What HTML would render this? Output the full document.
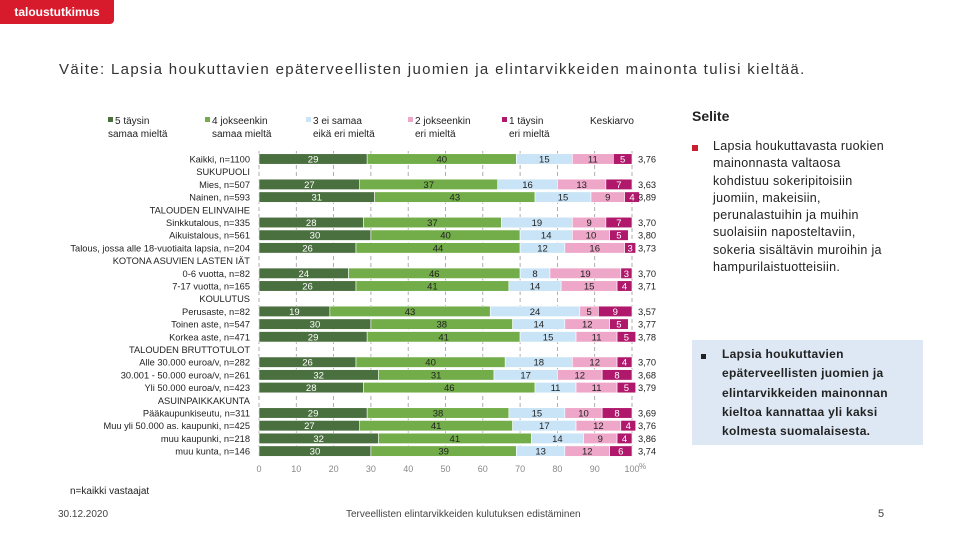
<!DOCTYPE html>
<html><head><meta charset="utf-8"><style>
body{margin:0;background:#fff;font-family:"Liberation Sans",sans-serif;}
#wrap{position:relative;width:960px;height:540px;overflow:hidden;}
.t{position:absolute;white-space:nowrap;}
</style></head><body>
<div id="wrap">
<div class="t" style="left:0;top:0;width:114px;height:24px;background:#d81b2c;border-radius:0 0 4px 0;color:#fff;font-weight:bold;font-size:12px;line-height:24px;text-align:center;">taloustutkimus</div>
<div class="t" style="left:59px;top:61px;font-size:15px;letter-spacing:1.35px;color:#333;">Väite: Lapsia houkuttavien epäterveellisten juomien ja elintarvikkeiden mainonta tulisi kieltää.</div>
<svg id="chart" width="960" height="540" style="position:absolute;left:0;top:0" font-family="Liberation Sans, sans-serif"></svg>
<div class="t" style="left:692px;top:108px;font-size:14px;font-weight:bold;color:#222;">Selite</div>
<div class="t" style="left:692px;top:145px;width:6px;height:6px;background:#c8202f;"></div>
<div class="t" style="left:713px;top:138px;font-size:12.5px;line-height:17.3px;letter-spacing:0.3px;color:#222;">Lapsia houkuttavasta ruokien<br>mainonnasta valtaosa<br>kohdistuu sokeripitoisiin<br>juomiin, makeisiin,<br>perunalastuihin ja muihin<br>suolaisiin naposteltaviin,<br>sokeria sisältävin muroihin ja<br>hampurilaistuotteisiin.</div>
<div class="t" style="left:692px;top:340px;width:231px;height:105px;background:#dde8f4;"></div>
<div class="t" style="left:701px;top:354px;width:5px;height:5px;background:#222;"></div>
<div class="t" style="left:722px;top:345px;font-size:12px;font-weight:bold;line-height:19.3px;letter-spacing:0.3px;color:#222;">Lapsia houkuttavien<br>epäterveellisten juomien ja<br>elintarvikkeiden mainonnan<br>kieltoa kannattaa yli kaksi<br>kolmesta suomalaisesta.</div>
<div class="t" style="left:70px;top:486px;font-size:10px;color:#222;">n=kaikki vastaajat</div>
<div class="t" style="left:58px;top:509px;font-size:10px;color:#444;">30.12.2020</div>
<div class="t" style="left:346px;top:509px;font-size:10px;color:#444;">Terveellisten elintarvikkeiden kulutuksen edistäminen</div>
<div class="t" style="left:878px;top:508px;font-size:11px;color:#444;">5</div>
</div>
<script>
const rowLabels=["Kaikki, n=1100","SUKUPUOLI","Mies, n=507","Nainen, n=593","TALOUDEN ELINVAIHE","Sinkkutalous, n=335","Aikuistalous, n=561","Talous, jossa alle 18-vuotiaita lapsia, n=204","KOTONA ASUVIEN LASTEN IÄT","0-6 vuotta, n=82","7-17 vuotta, n=165","KOULUTUS","Perusaste, n=82","Toinen aste, n=547","Korkea aste, n=471","TALOUDEN BRUTTOTULOT","Alle 30.000 euroa/v, n=282","30.001 - 50.000 euroa/v, n=261","Yli 50.000 euroa/v, n=423","ASUINPAIKKAKUNTA","Pääkaupunkiseutu, n=311","Muu yli 50.000 as. kaupunki, n=425","muu kaupunki, n=218","muu kunta, n=146"];
const s5=[29,null,27,31,null,28,30,26,null,24,26,null,19,30,29,null,26,32,28,null,29,27,32,30];
const s4=[40,null,37,43,null,37,40,44,null,46,41,null,43,38,41,null,40,31,46,null,38,41,41,39];
const s3=[15,null,16,15,null,19,14,12,null,8,14,null,24,14,15,null,18,17,11,null,15,17,14,13];
const s2=[11,null,13,9,null,9,10,16,null,19,15,null,5,12,11,null,12,12,11,null,10,12,9,12];
const s1=[5,null,7,4,null,7,5,3,null,3,4,null,9,5,5,null,4,8,5,null,8,4,4,6];
const means=["3,76","","3,63","3,89","","3,70","3,80","3,73","","3,70","3,71","","3,57","3,77","3,78","","3,70","3,68","3,79","","3,69","3,76","3,86","3,74"];
const ticks=[0,10,20,30,40,50,60,70,80,90,100];
const seriesNames=["5 täysin|samaa mieltä","4 jokseenkin|samaa mieltä","3 ei samaa|eikä eri mieltä","2 jokseenkin|eri mieltä","1 täysin|eri mieltä"];
const colors=["#4b7040","#72ad4a","#c9e4f6","#eea7c9","#b0186b"];
const txtCol=["#fff","#222","#222","#222","#fff"];
const svg=document.getElementById('chart');const NS="http://www.w3.org/2000/svg";
const X0=259,X1=632,Y0=159,DY=12.7,BH=10.5;
const x=v=>X0+(X1-X0)*v/100;const y=i=>Y0+i*DY;
function mk(t,a,p){const e=document.createElementNS(NS,t);for(const k in a)e.setAttribute(k,a[k]);(p||svg).appendChild(e);return e;}
ticks.forEach(t=>{
 const g=mk('line',{x1:x(t),x2:x(t),y1:Y0-8,y2:y(23)+8,stroke:'#999','stroke-dasharray':'4,3','stroke-width':0.8});
 
 
 const l=mk('text',{x:x(t),y:y(23)+21,'font-size':9,fill:'#888','text-anchor':'middle'});l.textContent=t;
 
 
});
const pc=mk('text',{x:x(100)+7,y:y(23)+18,'font-size':8,fill:'#888'});pc.textContent='%';


const series=[s5,s4,s3,s2,s1];
rowLabels.forEach((lab,i)=>{
 const t=mk('text',{x:250,y:y(i)+3.5,'font-size':9.3,fill:'#222','text-anchor':'end'});t.textContent=lab;
 
 
 if(s5[i]==null)return;
 let acc=0;
 series.forEach((s,k)=>{
  const v=s[i];
  const r=mk('rect',{x:x(acc),y:y(i)-BH/2,width:x(acc+v)-x(acc),height:BH,fill:colors[k],stroke:'#fff','stroke-width':0.6});
  
  
  const vt=mk('text',{x:(x(acc)+x(acc+v))/2,y:y(i)+3.5,'font-size':9.5,fill:txtCol[k],'text-anchor':'middle'});vt.textContent=v;
  
  
  acc+=v;
 });
 const m=mk('text',{x:638,y:y(i)+3.5,'font-size':9.3,fill:'#222'});m.textContent=means[i];
 
 
});
const lx=[108,205,306,408,502];
seriesNames.forEach((n,k)=>{
 const r=mk('rect',{x:lx[k],y:117,width:5,height:5,fill:colors[k]});
 
 
 const p=n.split('|');
 const a=mk('text',{x:lx[k]+7,y:124,'font-size':10,fill:'#222'});a.textContent=p[0];
 
 
 const b=mk('text',{x:lx[k]+(k==0?0:7),y:137,'font-size':10,fill:'#222'});b.textContent=p[1];
 
 
});
const kk=mk('text',{x:590,y:124,'font-size':10,fill:'#222'});kk.textContent='Keskiarvo';


</script>
</body></html>
